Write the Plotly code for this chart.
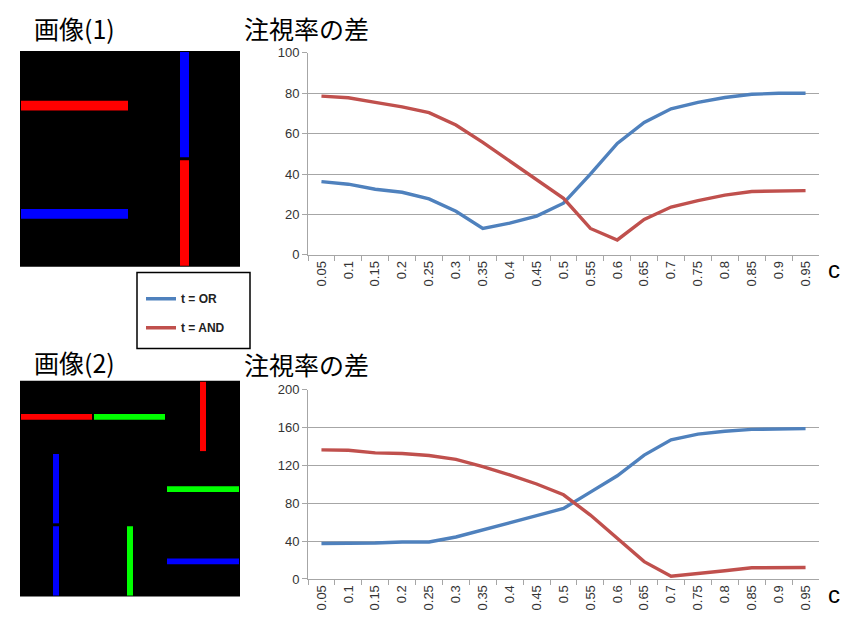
import plotly.graph_objects as go

W, H = 843, 626

c_labels = ["0.05", "0.1", "0.15", "0.2", "0.25", "0.3", "0.35", "0.4", "0.45", "0.5",
            "0.55", "0.6", "0.65", "0.7", "0.75", "0.8", "0.85", "0.9", "0.95"]

img1_or = [36.3, 35.0, 32.5, 31.0, 27.7, 21.6, 13.1, 15.7, 19.2, 25.6,
           40.0, 55.2, 65.6, 72.3, 75.5, 77.9, 79.5, 80.0, 80.0]
img1_and = [78.6, 77.8, 75.5, 73.3, 70.4, 64.3, 55.7, 46.4, 37.6, 28.0,
            13.1, 7.4, 17.6, 23.7, 26.9, 29.6, 31.4, 31.8, 31.8]

img2_or = [37.4, 37.4, 38.0, 39.0, 39.0, 44.3, 51.9, 58.8, 66.8, 74.4,
           91.7, 109.0, 130.8, 147.0, 153.0, 156.0, 158.0, 158.8, 158.8]
img2_and = [136.3, 136.0, 133.2, 132.5, 130.4, 126.3, 118.7, 110.0, 100.3, 88.9,
            67.5, 43.3, 18.3, 2.8, 6.2, 8.7, 11.8, 12.1, 12.1]

series_names = ["t = OR", "t = AND"]
series_colors = ["#4F81BD", "#C0504D"]


def px(x):
    return x / W


def py(y):
    return 1 - y / H


fig = go.Figure()

# chart 1
fig.add_trace(go.Scatter(x=c_labels, y=img1_or, mode="lines", name=series_names[0],
                         line=dict(color=series_colors[0], width=3.4), xaxis="x", yaxis="y",
                         legendgroup="a"))
fig.add_trace(go.Scatter(x=c_labels, y=img1_and, mode="lines", name=series_names[1],
                         line=dict(color=series_colors[1], width=3.4), xaxis="x", yaxis="y",
                         legendgroup="b"))
# chart 2
fig.add_trace(go.Scatter(x=c_labels, y=img2_or, mode="lines", name=series_names[0],
                         line=dict(color=series_colors[0], width=3.4), xaxis="x2", yaxis="y2",
                         showlegend=False))
fig.add_trace(go.Scatter(x=c_labels, y=img2_and, mode="lines", name=series_names[1],
                         line=dict(color=series_colors[1], width=3.4), xaxis="x2", yaxis="y2",
                         showlegend=False))

tick_font = dict(family="Liberation Sans, Arial, sans-serif", size=13, color="#333333")
grid_color = "#A6A6A6"

xcommon = dict(type="category", range=[-0.5, 18.5], showline=True, linecolor=grid_color,
               linewidth=1, ticks="outside", tickson="boundaries", ticklen=5,
               tickcolor=grid_color, tickangle=-90, tickfont=tick_font, showgrid=False,
               fixedrange=True)
ycommon = dict(showline=True, linecolor=grid_color, linewidth=1, ticks="outside", ticklen=5,
               tickcolor=grid_color, tickfont=tick_font, showgrid=True, gridcolor=grid_color,
               gridwidth=1, zeroline=False, fixedrange=True)

x_dom = [px(308), px(819)]
fig.update_layout(
    xaxis=dict(domain=x_dom, anchor="y", **xcommon),
    yaxis=dict(domain=[py(254), py(47)], anchor="x", range=[0, 100], dtick=20, **ycommon),
    xaxis2=dict(domain=x_dom, anchor="y2", **xcommon),
    yaxis2=dict(domain=[py(586), py(392)], anchor="x2", range=[0, 200], dtick=40, **ycommon),
)

shapes = []

# picture panels (decorative)
panel1 = dict(x0=20, y0=45, x1=240, y1=266)
panel1_bars = [
    (21, 96, 128, 106, "#FF0000"),
    (21, 207, 128, 217, "#0000FF"),
    (180, 46, 189, 154, "#0000FF"),
    (180, 157, 189, 265, "#FF0000"),
]
panel2 = dict(x0=20, y0=383, x1=240, y1=604)
panel2_bars = [
    (21, 417, 92, 423, "#FF0000"),
    (94, 417, 165, 423, "#00FF00"),
    (200, 384, 206, 455, "#FF0000"),
    (53, 458, 59, 529, "#0000FF"),
    (53, 532, 59, 603, "#0000FF"),
    (127, 532, 133, 603, "#00FF00"),
    (167, 491, 239, 497, "#00FF00"),
    (167, 565, 239, 571, "#0000FF"),
]
for pnl, bars in [(panel1, panel1_bars), (panel2, panel2_bars)]:
    shapes.append(dict(type="rect", xref="paper", yref="paper",
                       x0=px(pnl["x0"]), x1=px(pnl["x1"]), y0=py(pnl["y1"]), y1=py(pnl["y0"]),
                       fillcolor="#000000", line=dict(width=0), layer="below"))
    for (a, b, c, d, col) in bars:
        shapes.append(dict(type="rect", xref="paper", yref="paper",
                           x0=px(a), x1=px(c), y0=py(d), y1=py(b),
                           fillcolor=col, line=dict(width=0), layer="below"))

# legend frame
shapes.append(dict(type="rect", xref="paper", yref="paper",
                   x0=px(137), x1=px(250), y0=py(350), y1=py(272),
                   fillcolor="rgba(0,0,0,0)", line=dict(color="#000000", width=1.5)))

fig.update_layout(shapes=shapes)

title_font = dict(family="Noto Sans CJK JP, sans-serif", size=25, color="#000000")
annotations = [
    dict(text="画像(1)", x=px(32), y=py(22)),
    dict(text="注視率の差", x=px(242), y=py(22)),
    dict(text="画像(2)", x=px(32), y=py(364)),
    dict(text="注視率の差", x=px(242), y=py(366)),
]
for a in annotations:
    a.update(xref="paper", yref="paper", showarrow=False, font=title_font,
             xanchor="left", yanchor="middle")
for yy in (269, 602):
    annotations.append(dict(text="c", x=px(834), y=py(yy), xref="paper", yref="paper",
                            showarrow=False, xanchor="center", yanchor="middle",
                            font=dict(family="Liberation Sans, Arial, sans-serif", size=24,
                                      color="#000000")))
fig.update_layout(annotations=annotations)

fig.update_layout(
    width=W, height=H, autosize=False,
    margin=dict(l=0, r=0, t=0, b=0),
    paper_bgcolor="#FFFFFF", plot_bgcolor="#FFFFFF",
    showlegend=True,
    legend=dict(x=px(141), y=py(284), xanchor="left", yanchor="top",
                bgcolor="rgba(0,0,0,0)", borderwidth=0,
                font=dict(family="Liberation Sans, Arial, sans-serif", size=12, color="#222222",
                          weight="bold"),
                tracegroupgap=10, itemwidth=30),
)

fig.write_html("out.html", config={"displayModeBar": False},
               post_script="document.body.style.margin='0px';")
